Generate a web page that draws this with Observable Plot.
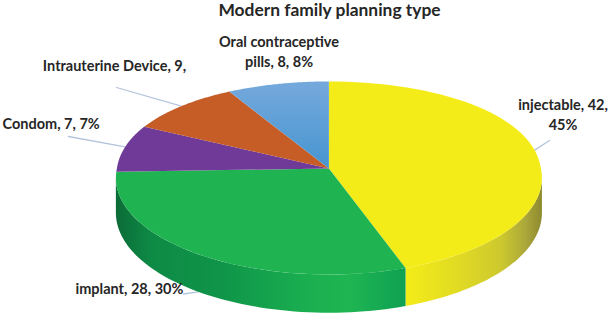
<!DOCTYPE html>
<html>
<head>
<meta charset="utf-8">
<script src="https://cdn.jsdelivr.net/npm/d3@7"></script>
<script src="https://cdn.jsdelivr.net/npm/@observablehq/plot@0.6"></script>
<style>
  html, body { margin: 0; padding: 0; background: #fff; }
  #title { height: 26px; width: 610px; box-sizing: border-box; padding-left: 49px; text-align: center;
    font: bold 17.4px/19px Lato, sans-serif; color: #262626; white-space: nowrap; }
  svg { display: block; }
</style>
</head>
<body>
<div id="title">Modern family planning type</div>
<div id="chart"></div>
<script>
const categories = ["injectable", "implant", "Condom", "Intrauterine Device", "Oral contraceptive pills"];
const counts = [42, 28, 7, 9, 8];
const topColors = ["#f4ec18", "#20b352", "#703a98", "#c65d27", "url(#blueTop)"];
const labelLines = [["injectable, 42,", "45%"], ["implant, 28, 30%"], ["Condom, 7, 7%"], ["Intrauterine Device, 9,"], ["Oral contraceptive", "pills, 8, 8%"]];
const labelX = [562.5, 75, 2, 114, 278.5];
const labelY = [105, 288.5, 124, 66, 42];
const labelAnchor = ["middle", "start", "start", "middle", "middle"];
const leaderEndX = [549, 183, 68, 116, null];
const leaderEndY = [140, 293.5, 136, 87, null];

// pie geometry: a circle seen in perspective, slightly fuller along the back rim
const cx = 328.4, cy = 168, a = 212, b = 95.6, k = 0.098, depth = 34.5, backFullness = 0.91;
const project = (t, drop = 0) => {
  const X = Math.sin(t), Y = -Math.cos(t), w = 1 - k * Y;
  const Yv = Y < 0 ? -Math.pow(-Y, backFullness) : Y;
  return {x: cx + a * X / w, y: cy + (b * Yv + drop) / w};
};
const arcPts = (t0, t1, drop = 0) => d3.range(0, 61).map(i => project(t0 + (t1 - t0) * i / 60, drop));

const slices = d3.pie().sort(null)(counts);
const polygons = slices.map((s, i) => ({
  fill: topColors[i],
  pts: [{x: cx, y: cy}, ...arcPts(s.startAngle, s.endAngle)]
}));

const tRight = Math.acos(-k), tLeft = 2 * Math.PI - tRight;
const wall = (t0, t1) => [...arcPts(t0, t1), ...arcPts(t0, t1, depth).reverse()];
const yellowWall = wall(tRight, slices[0].endAngle);
const greenWall = wall(slices[1].startAngle, Math.min(tLeft, slices[1].endAngle));

const leaders = slices.map((s, i) => {
  if (leaderEndX[i] == null) return null;
  const mid = (s.startAngle + s.endAngle) / 2;
  const front = -Math.cos(mid) > 0.5;
  return [{x: leaderEndX[i], y: leaderEndY[i]}, project(mid, front ? depth : 0)];
}).filter(Boolean);

const textData = labelLines.flatMap((lines, i) =>
  lines.map((text, j) => ({text, x: labelX[i], y: labelY[i] + j * 19.5, anchor: labelAnchor[i]})));

const gradient = (id, stops, vertical) => `<linearGradient id="${id}" x1="${vertical ? 0.5 : 0}" y1="0" x2="${vertical ? 0.5 : 1}" y2="${vertical ? 1 : 0}">` +
  stops.map(([o, c]) => `<stop offset="${o}" stop-color="${c}"/>`).join("") + `</linearGradient>`;

const defs = () => {
  const g = document.createElementNS("http://www.w3.org/2000/svg", "g");
  g.innerHTML = "<defs>" +
    gradient("blueTop", [[0, "#75a9dc"], [1, "#4695d1"]], true) +
    gradient("yellowSide", [[0, "#f4ec18"], [0.4, "#e0da24"], [0.7, "#cdc92e"], [0.88, "#aba73a"], [1, "#8d8a2f"]]) +
    gradient("greenSide", [[0, "#0b6b37"], [0.12, "#0e8a45"], [0.37, "#0f9549"], [0.65, "#1aae50"], [0.8, "#1fb552"], [1, "#0fa152"]]) +
    "</defs>";
  return g;
};

const chart = Plot.plot({
  width: 610, height: 288,
  margin: 0,
  x: {domain: [0, 610], range: [0, 610], axis: null},
  y: {domain: [26, 314], range: [0, 288], axis: null},
  marks: [
    defs,
    ...leaders.map(pts => Plot.line(pts, {x: "x", y: "y", stroke: "#b4c4dc", strokeWidth: 1.3})),
    Plot.line(yellowWall, {x: "x", y: "y", fill: "url(#yellowSide)"}),
    Plot.line(greenWall, {x: "x", y: "y", fill: "url(#greenSide)"}),
    ...polygons.map(p => Plot.line(p.pts, {x: "x", y: "y", fill: p.fill})),
    ...["start", "middle"].map(anchor => Plot.text(textData.filter(d => d.anchor === anchor), {
      x: "x", y: "y", text: "text", textAnchor: anchor,
      fontFamily: "Lato, sans-serif", fontWeight: "bold", fontSize: 14.5, fill: "#262626"
    }))
  ]
});
document.getElementById("chart").append(chart);
</script>
</body>
</html>
